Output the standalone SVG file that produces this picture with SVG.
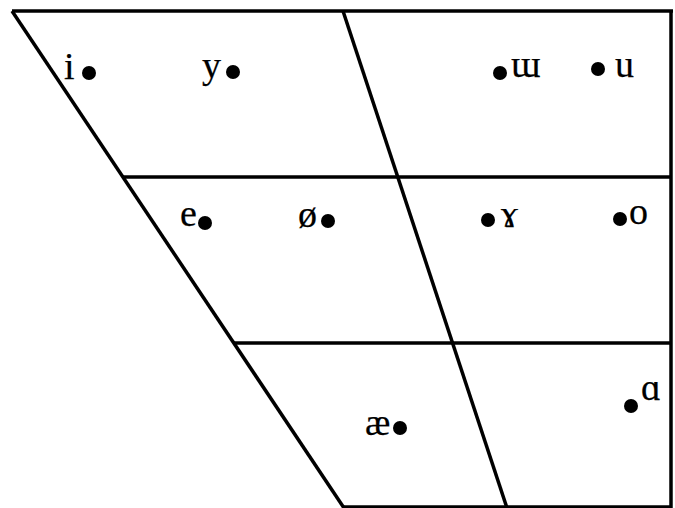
<svg xmlns="http://www.w3.org/2000/svg" width="675" height="508" viewBox="0 0 675 508">
<style>
.ln{stroke:#000;stroke-width:3.5;fill:none;stroke-linecap:butt}
.lbl{font-family:"Liberation Serif","DejaVu Serif",serif;font-size:38px;fill:#000;stroke:#000;stroke-width:0.25}
.dot{fill:#000}
</style>
<rect width="675" height="508" fill="#fff"/>
<g id="connectors">
<line class="ln" x1="12" y1="11" x2="673" y2="11"/>
<line class="ln" x1="671" y1="11" x2="671" y2="508"/>
<line class="ln" x1="343" y1="507" x2="671" y2="507"/>
<line class="ln" x1="12" y1="11" x2="344" y2="508"/>
<line class="ln" x1="343" y1="11" x2="507" y2="508"/>
<line class="ln" x1="123" y1="177" x2="671" y2="177"/>
<line class="ln" x1="233" y1="343" x2="671" y2="343"/>
</g>
<g id="v-i"><text class="lbl" x="64" y="79">i</text><circle class="dot" cx="89" cy="73" r="7"/></g>
<g id="v-y"><text class="lbl" x="202" y="78">y</text><circle class="dot" cx="233" cy="72" r="7"/></g>
<g id="v-m"><circle class="dot" cx="500" cy="73" r="7"/><text class="lbl" x="511" y="77">ɯ</text></g>
<g id="v-u"><circle class="dot" cx="598" cy="69" r="7"/><text class="lbl" x="615" y="77">u</text></g>
<g id="v-e"><text class="lbl" x="180" y="226">e</text><circle class="dot" cx="205" cy="223" r="7"/></g>
<g id="v-oe"><text class="lbl" x="298" y="227">ø</text><circle class="dot" cx="328" cy="221" r="7"/></g>
<g id="v-ram"><circle class="dot" cx="488" cy="220" r="7"/><text class="lbl" x="501" y="227">ɤ</text></g>
<g id="v-o"><circle class="dot" cx="620" cy="219" r="7"/><text class="lbl" x="629" y="224">o</text></g>
<g id="v-ae"><text class="lbl" x="365" y="435">æ</text><circle class="dot" cx="400" cy="428" r="7"/></g>
<g id="v-a"><circle class="dot" cx="631" cy="406" r="7"/><text class="lbl" x="641" y="400">ɑ</text></g>
</svg>
